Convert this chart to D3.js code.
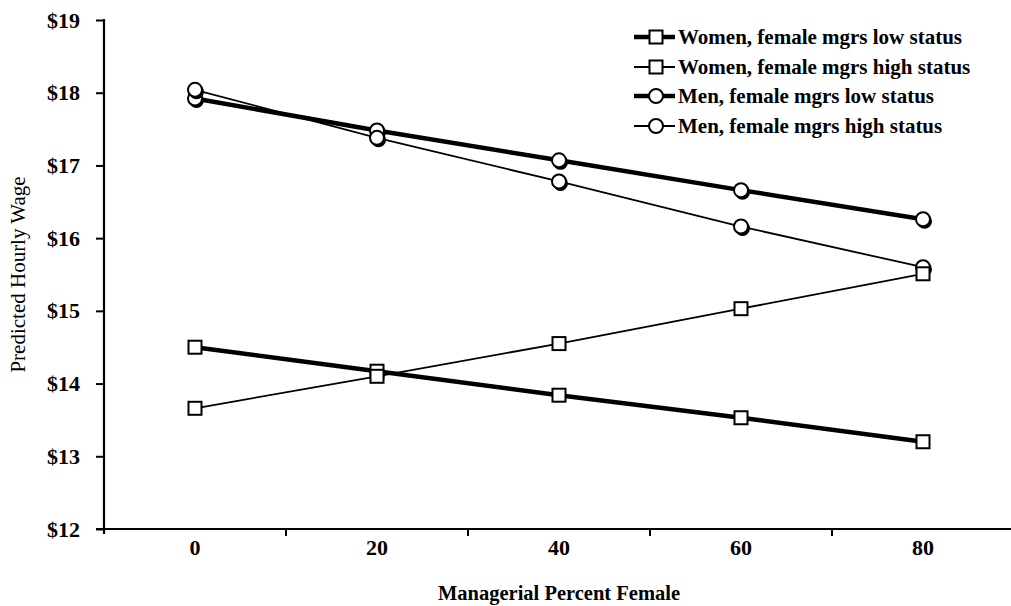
<!DOCTYPE html>
<html><head><meta charset="utf-8">
<script src="https://cdn.jsdelivr.net/npm/d3@7"></script>
<style>body{margin:0;background:#fff}svg{display:block}text{font-family:"Liberation Serif","Times New Roman",serif;fill:#000}</style>
</head><body><div id="chart"></div>
<script>
const categories = ["0","20","40","60","80"];
const womenLow  = [14.50, 14.17, 13.84, 13.53, 13.20];
const womenHigh = [13.66, 14.10, 14.55, 15.03, 15.51];
const menLow    = [17.92, 17.48, 17.07, 16.66, 16.26];
const menHigh   = [18.04, 17.38, 16.78, 16.16, 15.60];
const yTicks = [12,13,14,15,16,17,18,19];
const seriesNames = ["Women, female mgrs low status","Women, female mgrs high status","Men, female mgrs low status","Men, female mgrs high status"];
const xTitle = "Managerial Percent Female";
const yTitle = "Predicted Hourly Wage";

const series = [
  {name: seriesNames[0], values: womenLow,  marker: "square", thick: true},
  {name: seriesNames[1], values: womenHigh, marker: "square", thick: false},
  {name: seriesNames[2], values: menLow,    marker: "circle", thick: true},
  {name: seriesNames[3], values: menHigh,   marker: "circle", thick: false}
];

const W = 1011, H = 606;
const svg = d3.select("#chart").append("svg").attr("width", W).attr("height", H);

const x = d3.scaleBand().domain(categories).range([104, 1014]).paddingInner(0).paddingOuter(0);
const xc = c => x(c) + x.bandwidth()/2;
const y = d3.scaleLinear().domain([12, 19]).range([529, 20]);

// Y axis
const yAxis = svg.append("g").attr("transform", "translate(104,0)")
  .call(d3.axisLeft(y).tickValues(yTicks).tickFormat(d => "$" + d).tickSize(8).tickPadding(16));
yAxis.select(".domain").remove();
yAxis.selectAll(".tick line").attr("stroke", "#000").attr("stroke-width", 2);
yAxis.selectAll(".tick text").attr("font-size", 22).attr("font-weight", "bold")
  .attr("font-family", "Liberation Serif, serif");
svg.append("line").attr("x1",104).attr("x2",104).attr("y1", y(19)-1).attr("y2", y(12)+5)
  .attr("stroke","#000").attr("stroke-width",2.2);

// X axis
const xAxis = svg.append("g").attr("transform", "translate(0,529)")
  .call(d3.axisBottom(x).tickSize(0).tickPadding(10));
xAxis.select(".domain").remove();
xAxis.selectAll(".tick text").attr("font-size", 22).attr("font-weight", "bold")
  .attr("font-family", "Liberation Serif, serif");
svg.append("line").attr("x1", 96).attr("x2", W).attr("y1", 529).attr("y2", 529)
  .attr("stroke","#000").attr("stroke-width",2.2);
svg.append("g").selectAll("line").data(categories.slice(1)).join("line")
  .attr("x1", d => x(d)).attr("x2", d => x(d)).attr("y1", 529).attr("y2", 536)
  .attr("stroke","#000").attr("stroke-width",2);

// Titles
svg.append("text").attr("x", (104+1014)/2).attr("y", 600).attr("text-anchor","middle")
  .attr("font-size", 20.5).attr("font-weight","bold").text(xTitle);
svg.append("text").attr("transform", "translate(25," + ((20+529)/2) + ") rotate(-90)")
  .attr("text-anchor","middle").attr("font-size", 21).text(yTitle);

// Lines
const line = d3.line().x((d,i) => xc(categories[i])).y(d => y(d));
const drawOrder = [series[2], series[3], series[0], series[1]];
drawOrder.forEach(s => {
  svg.append("path").attr("d", line(s.values)).attr("fill","none").attr("stroke","#000")
    .attr("stroke-width", s.thick ? 4.5 : 1.8).attr("stroke-linejoin","round");
});

function drawMarker(g, type, cx, cy) {
  if (type === "circle") {
    g.append("circle").attr("cx", cx+1.5).attr("cy", cy+2).attr("r", 7.5).attr("fill","#000");
    g.append("circle").attr("cx", cx).attr("cy", cy).attr("r", 7).attr("fill","#fff")
      .attr("stroke","#000").attr("stroke-width",2);
  } else {
    g.append("rect").attr("x", cx-6.5).attr("y", cy-6.5).attr("width", 13).attr("height", 13)
      .attr("fill","#fff").attr("stroke","#000").attr("stroke-width",2);
  }
}
drawOrder.forEach(s => {
  const g = svg.append("g");
  s.values.forEach((v,i) => drawMarker(g, s.marker, xc(categories[i]), y(v)));
});

// Legend
const legY = [37, 67, 96, 126];
series.forEach((s, i) => {
  const g = svg.append("g");
  const ly = legY[i];
  g.append("line").attr("x1", 634).attr("x2", 675).attr("y1", ly).attr("y2", ly)
    .attr("stroke","#000").attr("stroke-width", s.thick ? 4.5 : 1.8);
  if (s.marker === "circle") {
    g.append("circle").attr("cx", 656).attr("cy", ly).attr("r", 7).attr("fill","#fff")
      .attr("stroke","#000").attr("stroke-width",2);
  } else {
    g.append("rect").attr("x", 649.5).attr("y", ly-6.5).attr("width", 13).attr("height", 13)
      .attr("fill","#fff").attr("stroke","#000").attr("stroke-width",2);
  }
  g.append("text").attr("x", 678).attr("y", ly).attr("dy","0.35em")
    .attr("font-size", 21).attr("font-weight","bold").text(s.name);
});
</script></body></html>
